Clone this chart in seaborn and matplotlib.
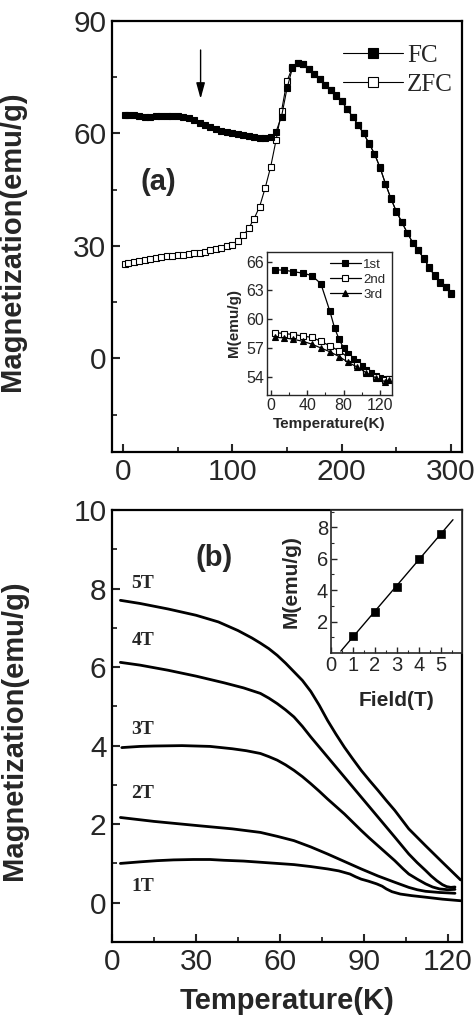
import numpy as np
import pandas as pd
import matplotlib
matplotlib.use("Agg")
import matplotlib.pyplot as plt
import seaborn as sns
from matplotlib.ticker import MultipleLocator, FixedLocator

# ---------------- data: panel (a) ----------------
fc_T = [2, 5, 10, 15, 20, 25, 30, 35, 40, 45, 50, 55, 60, 65, 70, 75, 80, 85, 90, 95,
        100, 105, 110, 115, 120, 125, 130, 135, 140, 145, 150, 155, 160, 165, 170, 175,
        180, 185, 190, 195, 200, 205, 210, 215, 220, 225, 230, 235, 240, 245, 250, 255,
        260, 265, 270, 275, 280, 285, 290, 295, 300]
fc_M = [65.0, 65.0, 64.9, 64.6, 64.5, 64.5, 64.6, 64.6, 64.7, 64.7, 64.6, 64.4, 64.0, 63.5,
        62.9, 62.3, 61.7, 61.1, 60.7, 60.4, 60.1, 59.8, 59.5, 59.2, 59.0, 58.9, 58.8, 59.0,
        60.5, 64.5, 72.0, 77.5, 78.9, 78.4, 77.2, 75.8, 74.5, 73.0, 71.6, 70.2, 68.7, 66.5,
        64.5, 62.2, 60.0, 57.3, 54.6, 50.9, 46.6, 42.6, 39.2, 36.3, 33.5, 30.8, 28.9, 26.6,
        24.3, 22.0, 20.3, 18.9, 17.3]
zfc_T = fc_T
zfc_M = [25.1, 25.3, 25.6, 25.9, 26.3, 26.6, 26.8, 27.0, 27.2, 27.4, 27.5, 27.7, 27.8, 28.0,
         28.2, 28.5, 28.9, 29.2, 29.5, 29.9, 30.3, 31.3, 32.8, 34.7, 37.3, 40.5, 45.4, 51.0,
         58.2, 66.0, 74.0, 77.6, 78.9, 78.4, 77.3, 75.9, 74.4, 73.0, 71.7, 70.1, 68.6, 66.4,
         64.5, 62.3, 60.0, 57.4, 54.5, 51.0, 46.6, 42.7, 39.1, 36.4, 33.4, 30.9, 28.8, 26.7,
         24.2, 22.1, 20.2, 19.0, 17.2]

# inset (a): repeated FC runs
ia_T1 = [5, 15, 25, 35, 45, 55, 65, 70, 75, 80, 85, 90, 95, 100, 105, 110, 115, 120, 125, 130]
ia_M1 = [65.15, 65.1, 64.95, 64.8, 64.55, 63.7, 60.8, 59.1, 57.9, 57.0, 56.4, 55.9, 55.5,
         55.1, 54.7, 54.4, 54.1, 53.9, 53.75, 53.8]
ia_T2 = [5, 15, 25, 35, 45, 55, 65, 75, 85, 95, 105, 115, 125, 130]
ia_M2 = [58.6, 58.5, 58.4, 58.25, 58.1, 57.7, 57.2, 56.7, 56.0, 55.2, 54.5, 54.0, 53.7, 53.75]
ia_T3 = [5, 15, 25, 35, 45, 55, 65, 75, 85, 95, 105, 115, 125, 130]
ia_M3 = [58.1, 58.05, 57.9, 57.7, 57.4, 57.0, 56.6, 56.1, 55.5, 55.0, 54.4, 53.9, 53.5, 53.7]
ia_labels = ["1st", "2nd", "3rd"]

# ---------------- data: panel (b) ----------------
b_T5 = [3, 10, 20, 30, 38, 45, 50, 53, 56, 59, 62, 65, 68, 71, 74, 77, 80, 83, 86, 89,
        92, 95, 98, 101, 106, 112, 118, 124.5]
b_M5 = [7.70, 7.62, 7.48, 7.32, 7.15, 6.93, 6.74, 6.61, 6.47, 6.30, 6.10, 5.88, 5.66, 5.38,
        5.03, 4.64, 4.29, 3.96, 3.66, 3.37, 3.11, 2.86, 2.60, 2.35, 1.88, 1.45, 1.03, 0.58]
b_T4 = [3, 10, 20, 30, 40, 47, 53, 56, 59, 62, 65, 68, 71, 77, 83, 89, 95, 101, 106, 109,
        112, 114, 116, 118, 119.5, 121, 122.5]
b_M4 = [6.12, 6.05, 5.92, 5.77, 5.60, 5.47, 5.33, 5.21, 5.07, 4.91, 4.73, 4.49, 4.22, 3.71,
        3.20, 2.69, 2.18, 1.67, 1.24, 1.02, 0.82, 0.68, 0.56, 0.46, 0.41, 0.39, 0.40]
b_T3 = [3.5, 10, 15, 25, 35, 43, 48, 53, 56, 59, 62, 65, 68, 71, 74, 77, 80, 83, 86, 89,
        92, 95, 98, 101, 104, 106, 109, 112, 114.5, 117, 120, 122.5]
b_M3 = [3.95, 3.98, 3.99, 4.00, 3.98, 3.92, 3.87, 3.80, 3.72, 3.63, 3.51, 3.37, 3.21, 3.03,
        2.84, 2.64, 2.45, 2.26, 2.05, 1.84, 1.64, 1.45, 1.26, 1.07, 0.86, 0.73, 0.60, 0.48,
        0.40, 0.35, 0.33, 0.34]
b_T2 = [3, 15, 31, 43, 53, 59, 65, 71, 77, 83, 89, 95, 101, 106, 109, 112, 117, 122.5]
b_M2 = [2.17, 2.07, 1.96, 1.88, 1.79, 1.69, 1.58, 1.42, 1.24, 1.05, 0.86, 0.68, 0.52, 0.39,
        0.33, 0.29, 0.26, 0.24]
b_T1 = [3, 10, 16, 22, 29, 35, 40, 47, 53, 59, 65, 71, 77, 81, 85, 87, 89, 91.5, 94.5,
        96.5, 98, 100, 103, 107, 112, 118, 124.5]
b_M1 = [1.00, 1.04, 1.07, 1.09, 1.10, 1.10, 1.08, 1.06, 1.03, 1.00, 0.97, 0.92, 0.86, 0.81,
        0.73, 0.66, 0.60, 0.55, 0.48, 0.42, 0.35, 0.28, 0.22, 0.18, 0.14, 0.09, 0.05]
b_fields = ["5T", "4T", "3T", "2T", "1T"]
b_label_T = [11, 11, 11, 11, 11]
b_label_M = [8.13, 6.68, 4.41, 2.78, 0.41]

# inset (b): M vs field
ib_F = [1, 2, 3, 4, 5]
ib_M = [1.1, 2.6, 4.2, 6.0, 7.6]

# ---------------- style ----------------
sns.set_style("ticks")
plt.rcParams["font.family"] = ["Liberation Sans", "DejaVu Sans"]
plt.rcParams["xtick.direction"] = "in"
plt.rcParams["ytick.direction"] = "in"
SERIF = ["Liberation Serif", "DejaVu Serif"]

fig = plt.figure(figsize=(4.75, 10.19), dpi=100)
ax_a = fig.add_axes([0.2358, 0.5564, 0.7368, 0.4230])
ax_b = fig.add_axes([0.2358, 0.0756, 0.7368, 0.4239])


def style_main(ax):
    for s in ax.spines.values():
        s.set_linewidth(1.6)
        s.set_color("black")
    ax.tick_params(which="major", direction="in", length=6, width=1.5,
                   labelsize=21.5, top=False, right=False, pad=4)
    ax.tick_params(which="minor", direction="in", length=3.5, width=1.3,
                   top=False, right=False)


# ---- panel (a) ----
df_fc = pd.DataFrame({"T": fc_T, "M": fc_M})
df_zfc = pd.DataFrame({"T": zfc_T, "M": zfc_M})
sns.lineplot(data=df_zfc, x="T", y="M", ax=ax_a, color="black", lw=0.8,
             marker="s", markersize=4.5, mfc="white", mec="black", mew=0.8,
             estimator=None, sort=False, label="ZFC", zorder=3)
sns.lineplot(data=df_fc, x="T", y="M", ax=ax_a, color="black", lw=0.8,
             marker="s", markersize=4.5, mfc="black", mec="black", mew=0.8,
             estimator=None, sort=False, label="FC", zorder=4)
ax_a.set_xlim(-10, 310)
ax_a.set_ylim(-25, 90)
ax_a.xaxis.set_major_locator(MultipleLocator(100))
ax_a.xaxis.set_minor_locator(MultipleLocator(50))
ax_a.yaxis.set_major_locator(MultipleLocator(30))
ax_a.yaxis.set_minor_locator(MultipleLocator(15))
style_main(ax_a)
ax_a.set_xlabel("")
ax_a.set_ylabel("Magnetization(emu/g)", fontsize=21, fontweight="bold")
ax_a.yaxis.set_label_coords(-0.245, 0.49)
h, l = ax_a.get_legend_handles_labels()
order = [l.index("FC"), l.index("ZFC")]
ax_a.legend([h[i] for i in order], [l[i] for i in order], loc="upper right",
            bbox_to_anchor=(1.01, 0.975), frameon=False, handlelength=2.4,
            handletextpad=0.15, labelspacing=0.25, borderaxespad=0.1,
            markerscale=1.5, prop={"family": SERIF, "size": 18})
ax_a.annotate("", xy=(71, 68.5), xytext=(71, 83),
              arrowprops=dict(arrowstyle="-|>,head_length=0.8,head_width=0.22",
                              color="black", lw=1.0, mutation_scale=12))
ax_a.text(32, 47, "(a)", fontsize=21, fontweight="bold", ha="center", va="center")

# inset (a)
ax_ia = fig.add_axes([0.5621, 0.6124, 0.2632, 0.1403])
series = [(ia_T1, ia_M1, "s", "black"), (ia_T2, ia_M2, "s", "white"),
          (ia_T3, ia_M3, "^", "black")]
for (tt, mm, mk, fcol), lab in zip(series, ia_labels):
    sns.lineplot(x=tt, y=mm, ax=ax_ia, color="black", lw=0.9, marker=mk,
                 markersize=4.2, mfc=fcol, mec="black", mew=0.8,
                 estimator=None, sort=False, label=lab)
ax_ia.set_xlim(-4, 133)
ax_ia.set_ylim(52.1, 67.0)
ax_ia.xaxis.set_major_locator(MultipleLocator(40))
ax_ia.xaxis.set_minor_locator(MultipleLocator(20))
ax_ia.yaxis.set_major_locator(MultipleLocator(3))
for s in ax_ia.spines.values():
    s.set_linewidth(1.0)
ax_ia.tick_params(which="major", direction="in", length=3.5, width=1.0,
                  labelsize=11.5, pad=2)
ax_ia.tick_params(which="minor", direction="in", length=2, width=0.8)
ax_ia.set_xlabel("Temperature(K)", fontsize=11, fontweight="bold", labelpad=3)
ax_ia.set_ylabel("M(emu/g)", fontsize=11, fontweight="bold", labelpad=4)
ax_ia.legend(loc="upper right", frameon=False, fontsize=9.5, handlelength=2.4,
             handletextpad=0.15, labelspacing=0.2, borderaxespad=0.2,
             borderpad=0.3)

# ---- panel (b) ----
curves = [(b_T5, b_M5), (b_T4, b_M4), (b_T3, b_M3), (b_T2, b_M2), (b_T1, b_M1)]
for (tt, mm) in curves:
    sns.lineplot(x=tt, y=mm, ax=ax_b, color="black", lw=2.0,
                 estimator=None, sort=False)
for lab, tx, my in zip(b_fields, b_label_T, b_label_M):
    ax_b.text(tx, my, lab, family=SERIF, fontsize=14, fontweight="bold",
              ha="center", va="center")
ax_b.text(36.4, 8.78, "(b)", fontsize=21, fontweight="bold", ha="center", va="center")
ax_b.set_xlim(0, 125)
ax_b.set_ylim(-1, 10)
ax_b.xaxis.set_major_locator(MultipleLocator(30))
ax_b.xaxis.set_minor_locator(MultipleLocator(15))
ax_b.yaxis.set_major_locator(MultipleLocator(2))
ax_b.yaxis.set_minor_locator(MultipleLocator(1))
style_main(ax_b)
ax_b.set_xlabel("Temperature(K)", fontsize=21, fontweight="bold", labelpad=8)
ax_b.set_ylabel("Magnetization(emu/g)", fontsize=21, fontweight="bold")
ax_b.yaxis.set_label_coords(-0.24, 0.49)

# inset (b)
ax_ib = fig.add_axes([0.6968, 0.3592, 0.2758, 0.1403])
coef = np.polyfit(ib_F, ib_M, 1)
fit_x = np.array([0.45, 5.55])
sns.lineplot(x=fit_x, y=np.polyval(coef, fit_x), ax=ax_ib, color="black", lw=1.0)
sns.scatterplot(x=ib_F, y=ib_M, ax=ax_ib, marker="s", s=34, color="black",
                edgecolor="black", linewidth=0.5, zorder=3)
ax_ib.set_xlim(0, 5.96)
ax_ib.set_ylim(0, 9.1)
ax_ib.xaxis.set_major_locator(FixedLocator([0, 1, 2, 3, 4, 5]))
ax_ib.xaxis.set_minor_locator(FixedLocator([0.5, 1.5, 2.5, 3.5, 4.5, 5.5]))
ax_ib.yaxis.set_major_locator(FixedLocator([2, 4, 6, 8]))
ax_ib.yaxis.set_minor_locator(FixedLocator([1, 3, 5, 7, 9]))
for s in ax_ib.spines.values():
    s.set_linewidth(1.2)
ax_ib.tick_params(which="major", direction="in", length=4, width=1.0,
                  labelsize=14.5, pad=2)
ax_ib.tick_params(which="minor", direction="in", length=2.5, width=0.8)
ax_ib.set_xlabel("Field(T)", fontsize=15, fontweight="bold", labelpad=12)
ax_ib.set_ylabel("M(emu/g)", fontsize=15, fontweight="bold", labelpad=12)

fig.savefig("out.png", dpi=100)
